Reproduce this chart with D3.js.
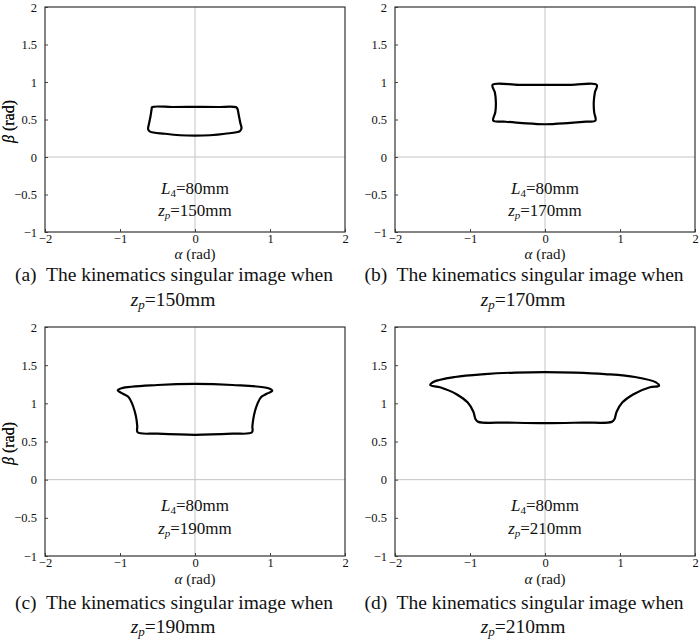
<!DOCTYPE html>
<html><head><meta charset="utf-8">
<script src="https://cdn.jsdelivr.net/npm/d3@7"></script>
<style>
html,body{margin:0;padding:0;background:#fff;}
svg{display:block;}
text{font-family:"Liberation Serif","Times New Roman",Times,serif;fill:#111;}
</style></head>
<body>
<svg id="chart" width="700" height="643"></svg>
<script>
// ---- data ----
const xTicks = [-2, -1, 0, 1, 2];
const xTickLabels = ["\u22122", "\u22121", "0", "1", "2"];
const yTicks = [-1, -0.5, 0, 0.5, 1, 1.5, 2];
const yTickLabels = ["\u22121", "\u22120.5", "0", "0.5", "1", "1.5", "2"];
const panelLetters = ["(a)", "(b)", "(c)", "(d)"];
const zpValues = [150, 170, 190, 210];
const L4Value = 80;

// singular curves [alpha, beta] (rad)
const shapeA = [[-0.572,0.665],[-0.3,0.667],[0,0.668],[0.3,0.667],[0.545,0.665],[0.565,0.645],[0.585,0.55],[0.605,0.45],[0.62,0.385],[0.6,0.345],[0.4,0.31],[0.2,0.29],[0,0.284],[-0.2,0.29],[-0.4,0.31],[-0.6,0.338],[-0.625,0.37],[-0.612,0.45],[-0.592,0.55],[-0.578,0.64]];
const shapeB = [[-0.70,0.962],[-0.35,0.962],[0,0.962],[0.35,0.962],[0.69,0.962],[0.665,0.86],[0.65,0.73],[0.655,0.6],[0.672,0.485],[0.55,0.472],[0.3,0.452],[0,0.437],[-0.3,0.452],[-0.55,0.472],[-0.69,0.485],[-0.662,0.6],[-0.655,0.73],[-0.668,0.86]];
const shapeC = [[-1.03,1.17],[-0.98,1.198],[-0.5,1.24],[0,1.255],[0.5,1.24],[0.98,1.198],[1.03,1.165],[0.955,1.125],[0.885,1.085],[0.835,1.0],[0.8,0.9],[0.778,0.8],[0.765,0.7],[0.76,0.62],[0.5,0.603],[0,0.588],[-0.5,0.603],[-0.765,0.62],[-0.77,0.7],[-0.782,0.8],[-0.805,0.9],[-0.84,1.0],[-0.89,1.085],[-0.96,1.125]];
const shapeD = [[-1.53,1.24],[-1.49,1.28],[-1.2,1.345],[-0.8,1.383],[-0.4,1.403],[0,1.41],[0.4,1.403],[0.8,1.383],[1.2,1.345],[1.48,1.275],[1.52,1.23],[1.4,1.21],[1.18,1.12],[1.03,1.01],[0.955,0.89],[0.925,0.79],[0.89,0.757],[0.5,0.748],[0,0.74],[-0.5,0.748],[-0.89,0.757],[-0.925,0.79],[-0.955,0.89],[-1.03,1.01],[-1.18,1.12],[-1.40,1.21]];
const shapes = [shapeA, shapeB, shapeC, shapeD];

// ---- layout ----
const frames = [
  {x0:45, x1:345, y0:7, y1:232, capX:174, annY1:188, annY2:210, xl:259, cap1:281, cap2:306},
  {x0:395, x1:695, y0:7, y1:232, capX:524, annY1:188, annY2:210, xl:259, cap1:281, cap2:306},
  {x0:45, x1:345, y0:327, y1:556, capX:174, annY1:505, annY2:528, xl:584, cap1:609, cap2:633},
  {x0:395, x1:695, y0:327, y1:556, capX:524, annY1:505, annY2:528, xl:584, cap1:609, cap2:633}
];

const svg = d3.select("#chart");

frames.forEach((f, i) => {
  const x = d3.scaleLinear().domain([-2, 2]).range([f.x0, f.x1]);
  const y = d3.scaleLinear().domain([-1, 2]).range([f.y1, f.y0]);
  const g = svg.append("g");

  // zero lines
  g.append("line").attr("x1", x(0)).attr("x2", x(0)).attr("y1", f.y0).attr("y2", f.y1)
    .attr("stroke", "#c4c4c4").attr("stroke-width", 1);
  g.append("line").attr("x1", f.x0).attr("x2", f.x1).attr("y1", y(0)).attr("y2", y(0))
    .attr("stroke", "#c4c4c4").attr("stroke-width", 1);

  // axes
  const ax = g.append("g").attr("transform", `translate(0,${f.y1})`)
    .call(d3.axisBottom(x).tickValues(xTicks).tickSize(-3).tickPadding(5)
      .tickFormat((d, k) => xTickLabels[k]));
  const ay = g.append("g").attr("transform", `translate(${f.x0},0)`)
    .call(d3.axisLeft(y).tickValues(yTicks).tickSize(-3).tickPadding(8)
      .tickFormat((d, k) => yTickLabels[k]));
  [ax, ay].forEach(a => {
    a.attr("font-family", null).attr("font-size", null);
    a.select(".domain").remove();
    a.selectAll(".tick line").attr("stroke", "#444");
    a.selectAll(".tick text").style("font-family", '"Liberation Serif","Times New Roman",serif')
      .style("font-size", "12.5px").attr("fill", "#222");
  });
  ax.selectAll(".tick text").attr("dy", "0.46em");

  // frame
  g.append("rect").attr("x", f.x0).attr("y", f.y0)
    .attr("width", f.x1 - f.x0).attr("height", f.y1 - f.y0)
    .attr("fill", "none").attr("stroke", "#333").attr("stroke-width", 1.2);

  // curve
  const line = d3.line().x(d => x(d[0])).y(d => y(d[1]))
    .curve(d3.curveCatmullRomClosed.alpha(0.5));
  g.append("path").attr("d", line(shapes[i])).attr("fill", "none")
    .attr("stroke", "#000").attr("stroke-width", 2.2).attr("stroke-linejoin", "round");

  const cx = (f.x0 + f.x1) / 2;
  // axis labels
  const xl = g.append("text").attr("x", cx).attr("y", f.xl)
    .attr("text-anchor", "middle").style("font-size", "15px");
  xl.append("tspan").style("font-style", "italic").text("\u03b1");
  xl.append("tspan").text(" (rad)");
  const yl = g.append("text")
    .attr("transform", `translate(14,${(f.y0 + f.y1) / 2 + 2}) rotate(-90)`)
    .attr("text-anchor", "middle").style("font-size", "16px");
  yl.append("tspan").style("font-style", "italic").text("\u03b2");
  yl.append("tspan").text(" (rad)");

  // annotations
  const t1 = g.append("text").attr("x", cx).attr("y", f.annY1 + 6)
    .attr("text-anchor", "middle").style("font-size", "17px");
  t1.append("tspan").style("font-style", "italic").text("L");
  t1.append("tspan").attr("dy", 3).style("font-size", "11px").text("4");
  t1.append("tspan").attr("dy", -3).text("=" + L4Value + "mm");
  const t2 = g.append("text").attr("x", cx).attr("y", f.annY2 + 6)
    .attr("text-anchor", "middle").style("font-size", "17px");
  t2.append("tspan").style("font-style", "italic").text("z");
  t2.append("tspan").attr("dy", 3).style("font-size", "11px").style("font-style", "italic").text("p");
  t2.append("tspan").attr("dy", -3).text("=" + zpValues[i] + "mm");

  // caption
  g.append("text").attr("x", f.capX).attr("y", f.cap1)
    .attr("text-anchor", "middle").style("font-size", "19.5px")
    .style("white-space", "pre")
    .text(panelLetters[i] + "  The kinematics singular image when");
  const c2 = g.append("text").attr("x", f.capX - 1).attr("y", f.cap2)
    .attr("text-anchor", "middle").style("font-size", "19.5px");
  c2.append("tspan").style("font-style", "italic").text("z");
  c2.append("tspan").attr("dy", 3).style("font-size", "13px").style("font-style", "italic").text("p");
  c2.append("tspan").attr("dy", -3).text("=" + zpValues[i] + "mm");
});
</script>
</body></html>
